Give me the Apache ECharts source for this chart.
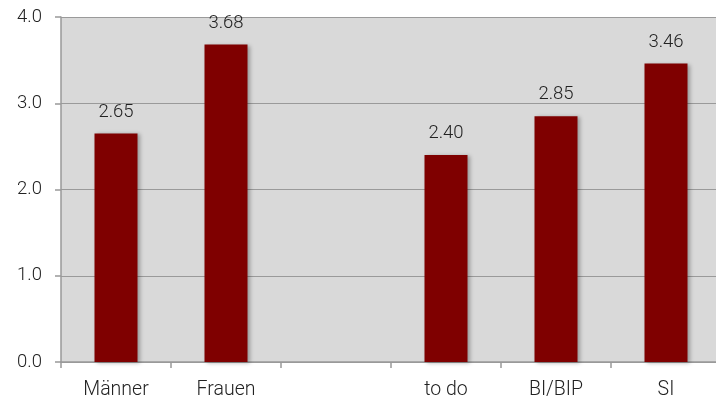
<!DOCTYPE html>
<html><head><meta charset="utf-8">
<script src="https://cdn.jsdelivr.net/npm/echarts@6/dist/echarts.min.js"></script>
<style>html,body{margin:0;padding:0;background:#fff}#c{width:716px;height:400px}</style>
</head><body><div id="c"></div>
<script>
var categories = ['Männer', 'Frauen', '', 'to do', 'BI/BIP', 'SI'];
var values = [2.65, 3.68, null, 2.40, 2.85, 3.46];
var yTicks = [0, 1, 2, 3, 4];

var chart = echarts.init(document.getElementById('c'));
var font = 'Roboto, "Liberation Sans", sans-serif';
chart.setOption({
  animation: false,
  grid: {left: 61, top: 17, width: 660, height: 345, show: true, backgroundColor: '#d9d9d9', borderWidth: 0,
    outerBoundsMode: 'none', containLabel: false},
  xAxis: {
    type: 'category', data: categories,
    axisLine: {lineStyle: {color: '#999', width: 1.5}},
    axisTick: {show: true, length: 6, lineStyle: {color: '#999', width: 1.5}},
    axisLabel: {color: '#222', fontSize: 19.5, fontFamily: font, fontWeight: 300, margin: 18}
  },
  yAxis: {
    type: 'value', min: yTicks[0], max: yTicks[yTicks.length - 1], interval: 1,
    axisLine: {show: true, lineStyle: {color: '#999', width: 1.5}},
    axisTick: {show: true, length: 6, lineStyle: {color: '#999', width: 1.5}},
    splitLine: {lineStyle: {color: '#9a9a9a', width: 1}},
    axisLabel: {color: '#222', fontSize: 18.5, fontFamily: font, fontWeight: 300, margin: 19,
      formatter: function (v) { return v.toFixed(1); }}
  },
  series: [{
    type: 'bar', data: values, barWidth: 43,
    itemStyle: {color: '#7f0000', shadowBlur: 4, shadowOffsetX: 2, shadowOffsetY: 1, shadowColor: 'rgba(0,0,0,0.3)'},
    label: {show: true, position: 'top', distance: 12, color: '#222', fontSize: 18.5, fontFamily: font, fontWeight: 300,
      formatter: function (p) { return p.value == null ? '' : p.value.toFixed(2); }}
  }]
});
</script></body></html>
